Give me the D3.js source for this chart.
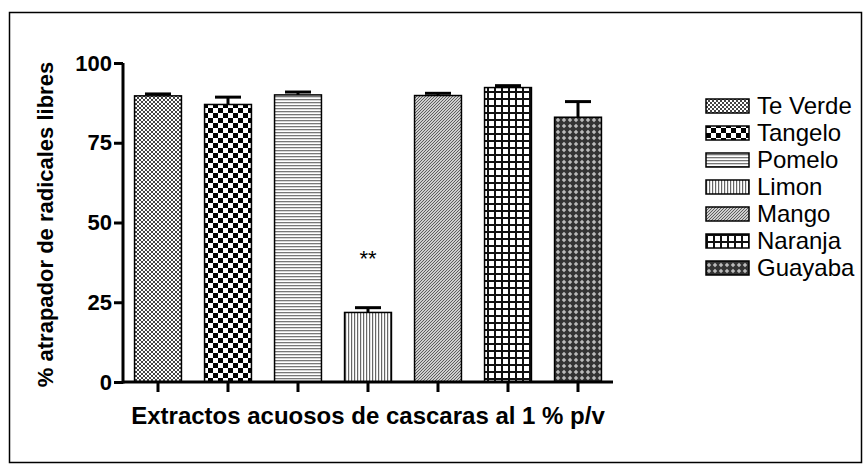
<!DOCTYPE html>
<html>
<head>
<meta charset="utf-8">
<script src="https://cdn.jsdelivr.net/npm/d3@7"></script>
<style>
  body { margin: 0; background: #fff; }
  svg { display: block; font-family: Arial, "Liberation Sans", sans-serif; }
</style>
</head>
<body>
<div id="chart"></div>
<script>
// data
let categories = ["Te Verde", "Tangelo", "Pomelo", "Limon", "Mango", "Naranja", "Guayaba"];
let means = [89.7, 87.0, 90.0, 21.8, 89.8, 92.3, 83.0];
let errors = [0.6, 2.3, 0.9, 1.5, 0.7, 0.6, 4.9];
let yTicks = [0, 25, 50, 75, 100];
let patternIds = ["pDots", "pCheck", "pHoriz", "pVert", "pDiag", "pGrid", "pDiamond"];

let W = 864, H = 472;
let margin = {top: 63, left: 123},
    plotW = 490,
    plotH = 319;

let svg = d3.select("#chart")
    .append("svg")
    .attr("width", W)
    .attr("height", H);

// outer frame
svg.append("rect")
    .attr("x", 9.5).attr("y", 12.5)
    .attr("width", 852).attr("height", 450)
    .attr("fill", "none")
    .attr("stroke", "#000")
    .attr("stroke-width", 1.5);

let defs = svg.append("defs");

function pattern(id, w, h) {
    let p = defs.append("pattern")
        .attr("id", id)
        .attr("patternUnits", "userSpaceOnUse")
        .attr("width", w).attr("height", h);
    p.append("rect").attr("width", w).attr("height", h).attr("fill", "#fff");
    return p;
}

// fine checker
let p1 = pattern("pDots", 4, 4);
p1.append("rect").attr("width", 2).attr("height", 2).attr("fill", "#444");
p1.append("rect").attr("x", 2).attr("y", 2).attr("width", 2).attr("height", 2).attr("fill", "#444");

// large checker
let p2 = pattern("pCheck", 10, 10);
p2.append("rect").attr("width", 5).attr("height", 5).attr("fill", "#000");
p2.append("rect").attr("x", 5).attr("y", 5).attr("width", 5).attr("height", 5).attr("fill", "#000");

// horizontal lines
let p3 = pattern("pHoriz", 4, 3);
p3.append("rect").attr("y", 0).attr("width", 4).attr("height", 1.3).attr("fill", "#777");

// vertical lines
let p4 = pattern("pVert", 3, 4);
p4.append("rect").attr("x", 0).attr("width", 1.2).attr("height", 4).attr("fill", "#666");

// diagonal
let p5 = pattern("pDiag", 3, 3);
p5.append("path").attr("d", "M-1,1 L1,-1 M0,3 L3,0 M2,4 L4,2")
    .attr("stroke", "#555").attr("stroke-width", 1.1);

// grid
let p6 = pattern("pGrid", 7, 7);
p6.append("rect").attr("width", 7).attr("height", 2).attr("fill", "#111");
p6.append("rect").attr("width", 2).attr("height", 7).attr("fill", "#111");

// diamonds
let p7 = pattern("pDiamond", 6, 6);
p7.select("rect").attr("fill", "#333");
p7.append("path").attr("d", "M3,0.8 L5.2,3 L3,5.2 L0.8,3 Z").attr("fill", "#bbb");

let g = svg.append("g")
    .attr("transform", "translate(" + margin.left + "," + margin.top + ")");

let x = d3.scaleBand()
    .domain(categories)
    .range([0, plotW])
    .paddingInner(0.33)
    .paddingOuter(0.165);

let y = d3.scaleLinear()
    .domain([0, 100])
    .range([plotH, 0]);

// bars
g.selectAll("rect.bar")
    .data(categories)
    .enter()
    .append("rect")
    .attr("class", "bar")
    .attr("x", function (d) { return x(d); })
    .attr("y", function (d, i) { return y(means[i]); })
    .attr("width", x.bandwidth())
    .attr("height", function (d, i) { return plotH - y(means[i]); })
    .attr("fill", function (d, i) { return "url(#" + patternIds[i] + ")"; })
    .attr("stroke", "#000")
    .attr("stroke-width", 1.5);

// error bars (upper only)
let capW = 26;
categories.forEach(function (c, i) {
    let cx = x(c) + x.bandwidth() / 2;
    g.append("line")
        .attr("x1", cx).attr("x2", cx)
        .attr("y1", y(means[i])).attr("y2", y(means[i] + errors[i]))
        .attr("stroke", "#000").attr("stroke-width", 3);
    g.append("line")
        .attr("x1", cx - capW / 2).attr("x2", cx + capW / 2)
        .attr("y1", y(means[i] + errors[i])).attr("y2", y(means[i] + errors[i]))
        .attr("stroke", "#000").attr("stroke-width", 3);
});

// significance mark over Limon
g.append("text")
    .attr("x", x("Limon") + x.bandwidth() / 2)
    .attr("y", y(means[3]) - 46)
    .attr("text-anchor", "middle")
    .style("font-size", "22px")
    .text("**");

// axes
let yAxis = g.append("g")
    .call(d3.axisLeft(y).tickValues(yTicks).tickSize(9).tickPadding(2));
let xAxis = g.append("g")
    .attr("transform", "translate(0," + plotH + ")")
    .call(d3.axisBottom(x).tickSize(10).tickFormat(""));

[yAxis, xAxis].forEach(function (a) {
    a.select(".domain").attr("stroke-width", 3);
    a.selectAll(".tick line").attr("stroke-width", 3);
});
xAxis.select(".domain").attr("d", "M0,0H" + plotW);
yAxis.select(".domain").attr("d", "M0," + (plotH + 1.5) + "V0");
yAxis.selectAll(".tick text")
    .style("font-size", "22px")
    .style("font-weight", "bold")
    .attr("fill", "#000");

// axis titles
svg.append("text")
    .attr("transform", "translate(53," + (margin.top + plotH / 2 + 2) + ") rotate(-90)")
    .attr("text-anchor", "middle")
    .style("font-size", "22px")
    .style("font-weight", "bold")
    .text("% atrapador de radicales libres");

svg.append("text")
    .attr("x", margin.left + plotW / 2)
    .attr("y", 424)
    .attr("text-anchor", "middle")
    .style("font-size", "24px")
    .style("font-weight", "bold")
    .text("Extractos acuosos de cascaras al 1 % p/v");

// legend
let legend = svg.append("g").attr("transform", "translate(706,106)");
categories.forEach(function (c, i) {
    let row = legend.append("g").attr("transform", "translate(0," + (i * 27) + ")");
    row.append("rect")
        .attr("x", 0).attr("y", -7)
        .attr("width", 43).attr("height", 14)
        .attr("fill", "url(#" + patternIds[i] + ")")
        .attr("stroke", "#000")
        .attr("stroke-width", 1.5);
    row.append("text")
        .attr("x", 51).attr("y", 0)
        .attr("dy", "0.35em")
        .style("font-size", "24px")
        .text(c);
});
</script>
</body>
</html>
